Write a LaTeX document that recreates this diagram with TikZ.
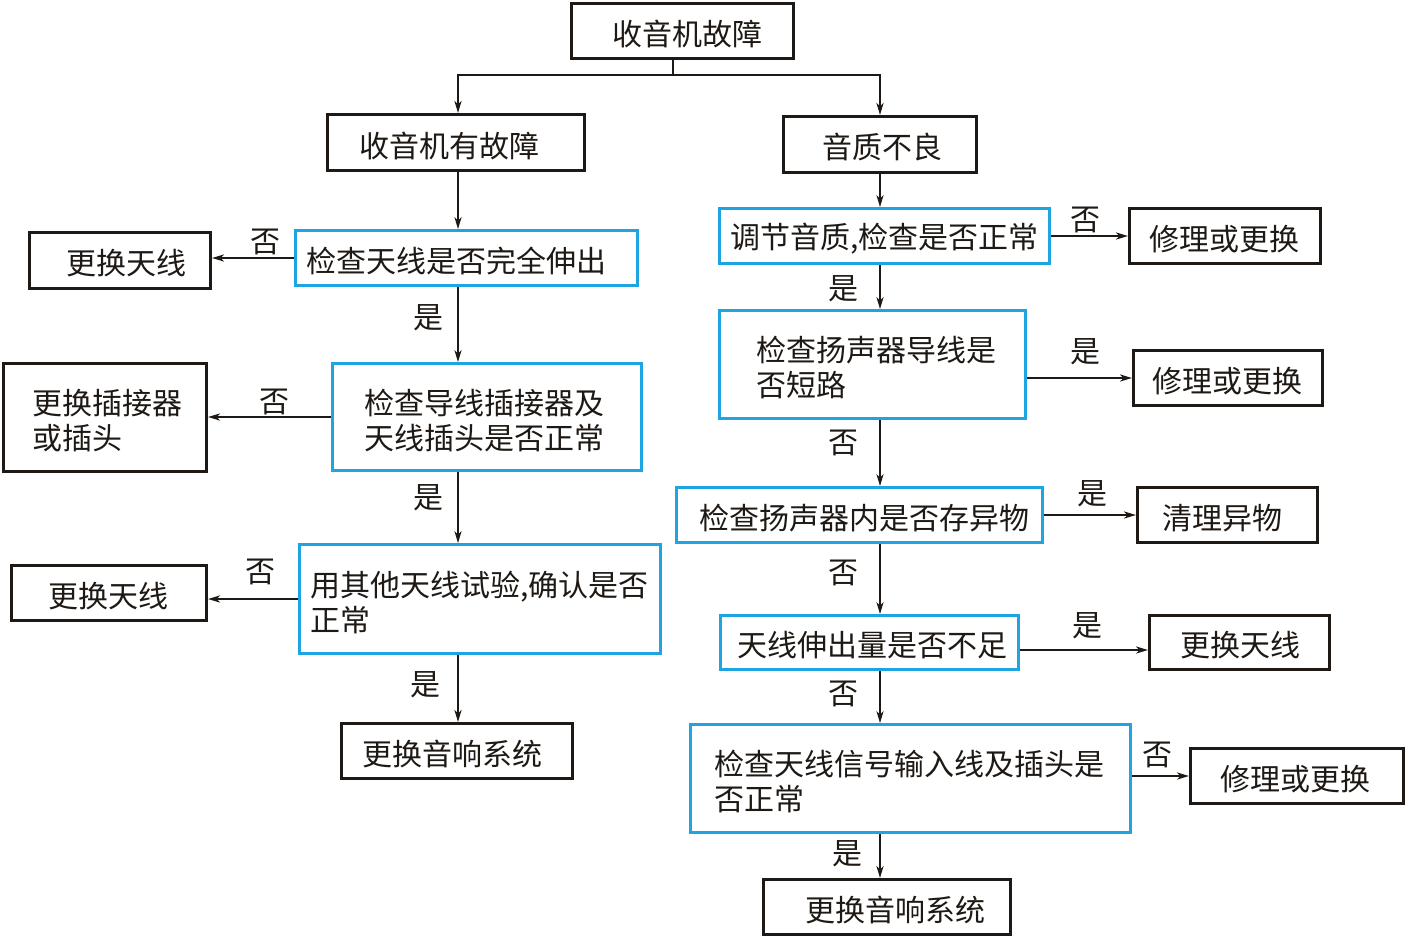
\documentclass[tikz,border=0pt]{standalone}
\usepackage{fontspec}
\setmainfont{Noto Sans CJK SC}
\usetikzlibrary{arrows.meta}
\definecolor{bl}{RGB}{30,165,225}
\definecolor{ink}{RGB}{30,25,20}
\tikzset{
 blk/.style={draw=ink, line width=1.6pt},
 blu/.style={draw=bl, line width=1.5pt},
 txt/.style={anchor=west, inner sep=0pt, align=left, font=\fontsize{15}{17.5}\selectfont, text=ink},
 lab/.style={inner sep=0pt, font=\fontsize{15}{17.5}\selectfont, text=ink},
 arr/.style={draw=ink, line width=0.6pt, -{Stealth[length=6pt,width=3.6pt,inset=1.8pt]}},
 ln/.style={draw=ink, line width=0.6pt},
}
\newcommand\bx[8]{%
 \pgfmathsetmacro\bxW{(#5-#3)*0.5-1.5}%
 \pgfmathsetmacro\bxH{(#6-#4)*0.5-1.5}%
 \node[#2, minimum width=\bxW pt, minimum height=\bxH pt, inner sep=0pt] (#1) at ({(#3+#5)/2},{(#4+#6)/2}) {};
 \node[txt] (#1t) at (#7,{(#4+#6)/2+3}) {#8};}
\begin{document}
\begin{tikzpicture}[x=0.5pt,y=-0.5pt]
\useasboundingbox[fill=white] (0,0) rectangle (1407,939);
% black boxes
\bx{n1}{blk}{570}{2}{795}{60}{612}{收音机故障}
\bx{n2}{blk}{326}{113}{586}{172}{359}{收音机有故障}
\bx{n3}{blk}{782}{115}{978}{174}{822}{音质不良}
\bx{n4}{blk}{28}{231}{212}{290}{66}{更换天线}
\bx{n5}{blk}{2}{362}{208}{473}{32}{更换插接器\\或插头}
\bx{n6}{blk}{10}{564}{208}{622}{48}{更换天线}
\bx{n7}{blk}{340}{722}{574}{780}{362}{更换音响系统}
\bx{n8}{blk}{1128}{207}{1322}{265}{1149}{修理或更换}
\bx{n9}{blk}{1132}{349}{1324}{407}{1152}{修理或更换}
\bx{n10}{blk}{1136}{486}{1319}{544}{1162}{清理异物}
\bx{n11}{blk}{1148}{614}{1331}{671}{1180}{更换天线}
\bx{n12}{blk}{1189}{747}{1405}{805}{1220}{修理或更换}
\bx{n13}{blk}{762}{878}{1012}{936}{805}{更换音响系统}
% blue boxes
\bx{A}{blu}{294}{229}{639}{287}{306}{检查天线是否完全伸出}
\bx{B}{blu}{331}{362}{643}{472}{364}{检查导线插接器及\\天线插头是否正常}
\bx{C}{blu}{298}{543}{662}{655}{310}{用其他天线试验,确认是否\\正常}
\bx{D}{blu}{718}{207}{1051}{265}{730}{调节音质,检查是否正常}
\bx{E}{blu}{718}{309}{1027}{420}{756}{检查扬声器导线是\\否短路}
\bx{F}{blu}{675}{486}{1044}{544}{699}{检查扬声器内是否存异物}
\bx{G}{blu}{719}{614}{1020}{671}{737}{天线伸出量是否不足}
\bx{H}{blu}{689}{723}{1132}{834}{714}{检查天线信号输入线及插头是\\否正常}
% column coordinates
\coordinate (L) at (458,0);
\coordinate (R) at (880,0);
\coordinate (j) at (673,75);
\coordinate (g) at (0,650);
% top split
\draw[ln] (n1.south -| j) -- (j);
\draw[arr] (j) -| (n2.north -| L);
\draw[arr] (j) -| (n3.north -| R);
% left column
\draw[arr] (n2.south -| L) -- (A.north -| L);
\draw[arr] (A.south -| L) -- (B.north -| L);
\draw[arr] (B.south -| L) -- (C.north -| L);
\draw[arr] (C.south -| L) -- (n7.north -| L);
\draw[arr] (A.west) -- (A.west -| n4.east);
\draw[arr] (B.west) -- (B.west -| n5.east);
\draw[arr] (C.west) -- (C.west -| n6.east);
% right column
\draw[arr] (n3.south -| R) -- (D.north -| R);
\draw[arr] (D.south -| R) -- (E.north -| R);
\draw[arr] (E.south -| R) -- (F.north -| R);
\draw[arr] (F.south -| R) -- (G.north -| R);
\draw[arr] (G.south -| R) -- (H.north -| R);
\draw[arr] (H.south -| R) -- (n13.north -| R);
\draw[arr] (D.east |- n8.west) -- (n8.west);
\draw[arr] (E.east |- n9.west) -- (n9.west);
\draw[arr] (F.east |- n10.west) -- (n10.west);
\draw[arr] (G.east |- g) -- (n11.west |- g);
\draw[arr] (H.east |- n12.west) -- (n12.west);
% labels
\node[lab] (l1) at (265,242) {否};
\node[lab] (l2) at (428,318) {是};
\node[lab] (l3) at (274,402) {否};
\node[lab] (l4) at (428,498) {是};
\node[lab] (l5) at (260,572) {否};
\node[lab] (l6) at (425,685) {是};
\node[lab] (l7) at (1085,220) {否};
\node[lab] (l8) at (843,289) {是};
\node[lab] (l9) at (1085,352) {是};
\node[lab] (l10) at (843,443) {否};
\node[lab] (l11) at (1092,494) {是};
\node[lab] (l12) at (843,573) {否};
\node[lab] (l13) at (1087,626) {是};
\node[lab] (l14) at (843,694) {否};
\node[lab] (l15) at (1157,755) {否};
\node[lab] (l16) at (847,854) {是};
\end{tikzpicture}
\end{document}
